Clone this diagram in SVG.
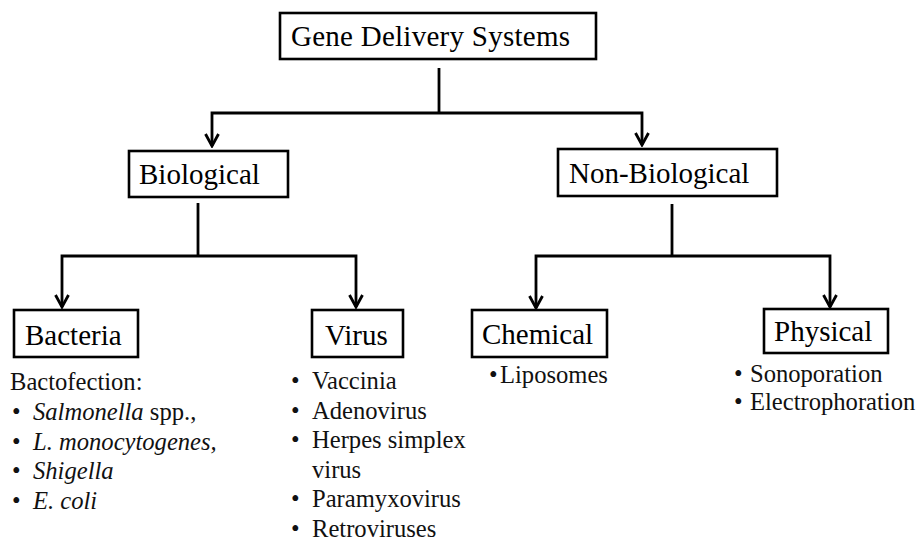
<svg xmlns="http://www.w3.org/2000/svg" width="921" height="541" viewBox="0 0 921 541">
<style>
.box{fill:#fff;stroke:#000;stroke-width:2.6}
.lbl{font-family:"Liberation Serif","Times New Roman",serif;font-size:29px;fill:#000}
.item{font-family:"Liberation Serif","Times New Roman",serif;font-size:24.6px;fill:#111}
.it{font-style:italic}
.con{fill:none;stroke:#000;stroke-width:2.8}
</style>
<defs>
<marker id="arr" viewBox="-14 -8 16 16" refX="0" refY="0" markerWidth="16" markerHeight="16" markerUnits="userSpaceOnUse" orient="auto">
<path d="M-12,-6.5 L0,0 L-12,6.5" fill="none" stroke="#000" stroke-width="2.8"/>
</marker>
</defs>
<rect width="921" height="541" fill="#fff"/>
<g id="connectors">
<path class="con" d="M439,68 V113"/>
<path class="con" d="M439,113 H212 V146" marker-end="url(#arr)"/>
<path class="con" d="M439,113 H642 V145" marker-end="url(#arr)"/>
<path class="con" d="M198,203 V256"/>
<path class="con" d="M198,256 H62 V307" marker-end="url(#arr)"/>
<path class="con" d="M198,256 H356 V307" marker-end="url(#arr)"/>
<path class="con" d="M672,204 V256"/>
<path class="con" d="M672,256 H536 V308" marker-end="url(#arr)"/>
<path class="con" d="M672,256 H830 V307" marker-end="url(#arr)"/>
</g>
<g id="root">
<rect class="box" x="280" y="13" width="316" height="46"/>
<text class="lbl" x="291" y="46" textLength="279" lengthAdjust="spacing">Gene Delivery  Systems</text>
</g>
<g id="biological">
<rect class="box" x="129" y="151" width="159" height="46"/>
<text class="lbl" x="139" y="184">Biological</text>
</g>
<g id="nonbiological">
<rect class="box" x="558" y="149" width="219" height="47"/>
<text class="lbl" x="569" y="183">Non-Biological</text>
</g>
<g id="bacteria">
<rect class="box" x="14" y="310" width="124" height="47"/>
<text class="lbl" x="25" y="345">Bacteria</text>
<text class="item" x="10" y="390">Bactofection:</text>
<text class="item" x="12" y="420">•</text><text class="item" x="33" y="420"><tspan class="it">Salmonella</tspan> spp.,</text>
<text class="item" x="12" y="449.5">•</text><text class="item it" x="33" y="449.5">L. monocytogenes,</text>
<text class="item" x="12" y="479">•</text><text class="item it" x="33" y="479">Shigella</text>
<text class="item" x="12" y="508.5">•</text><text class="item it" x="33" y="508.5">E. coli</text>
</g>
<g id="virus">
<rect class="box" x="312" y="310" width="91" height="47"/>
<text class="lbl" x="325" y="345">Virus</text>
<text class="item" x="291" y="389">•</text><text class="item" x="312" y="389">Vaccinia</text>
<text class="item" x="291" y="418.5">•</text><text class="item" x="312" y="418.5">Adenovirus</text>
<text class="item" x="291" y="448">•</text><text class="item" x="312" y="448">Herpes simplex</text>
<text class="item" x="312" y="477.5">virus</text>
<text class="item" x="291" y="507">•</text><text class="item" x="312" y="507">Paramyxovirus</text>
<text class="item" x="291" y="536.5">•</text><text class="item" x="312" y="536.5">Retroviruses</text>
</g>
<g id="chemical">
<rect class="box" x="472" y="310" width="135" height="47"/>
<text class="lbl" x="482" y="344">Chemical</text>
<text class="item" x="489" y="383">•</text><text class="item" x="500" y="383">Liposomes</text>
</g>
<g id="physical">
<rect class="box" x="764" y="309" width="124" height="44"/>
<text class="lbl" x="774" y="341">Physical</text>
<text class="item" x="734" y="382">•</text><text class="item" x="750" y="382">Sonoporation</text>
<text class="item" x="734" y="410">•</text><text class="item" x="750" y="410">Electrophoration</text>
</g>
</svg>
